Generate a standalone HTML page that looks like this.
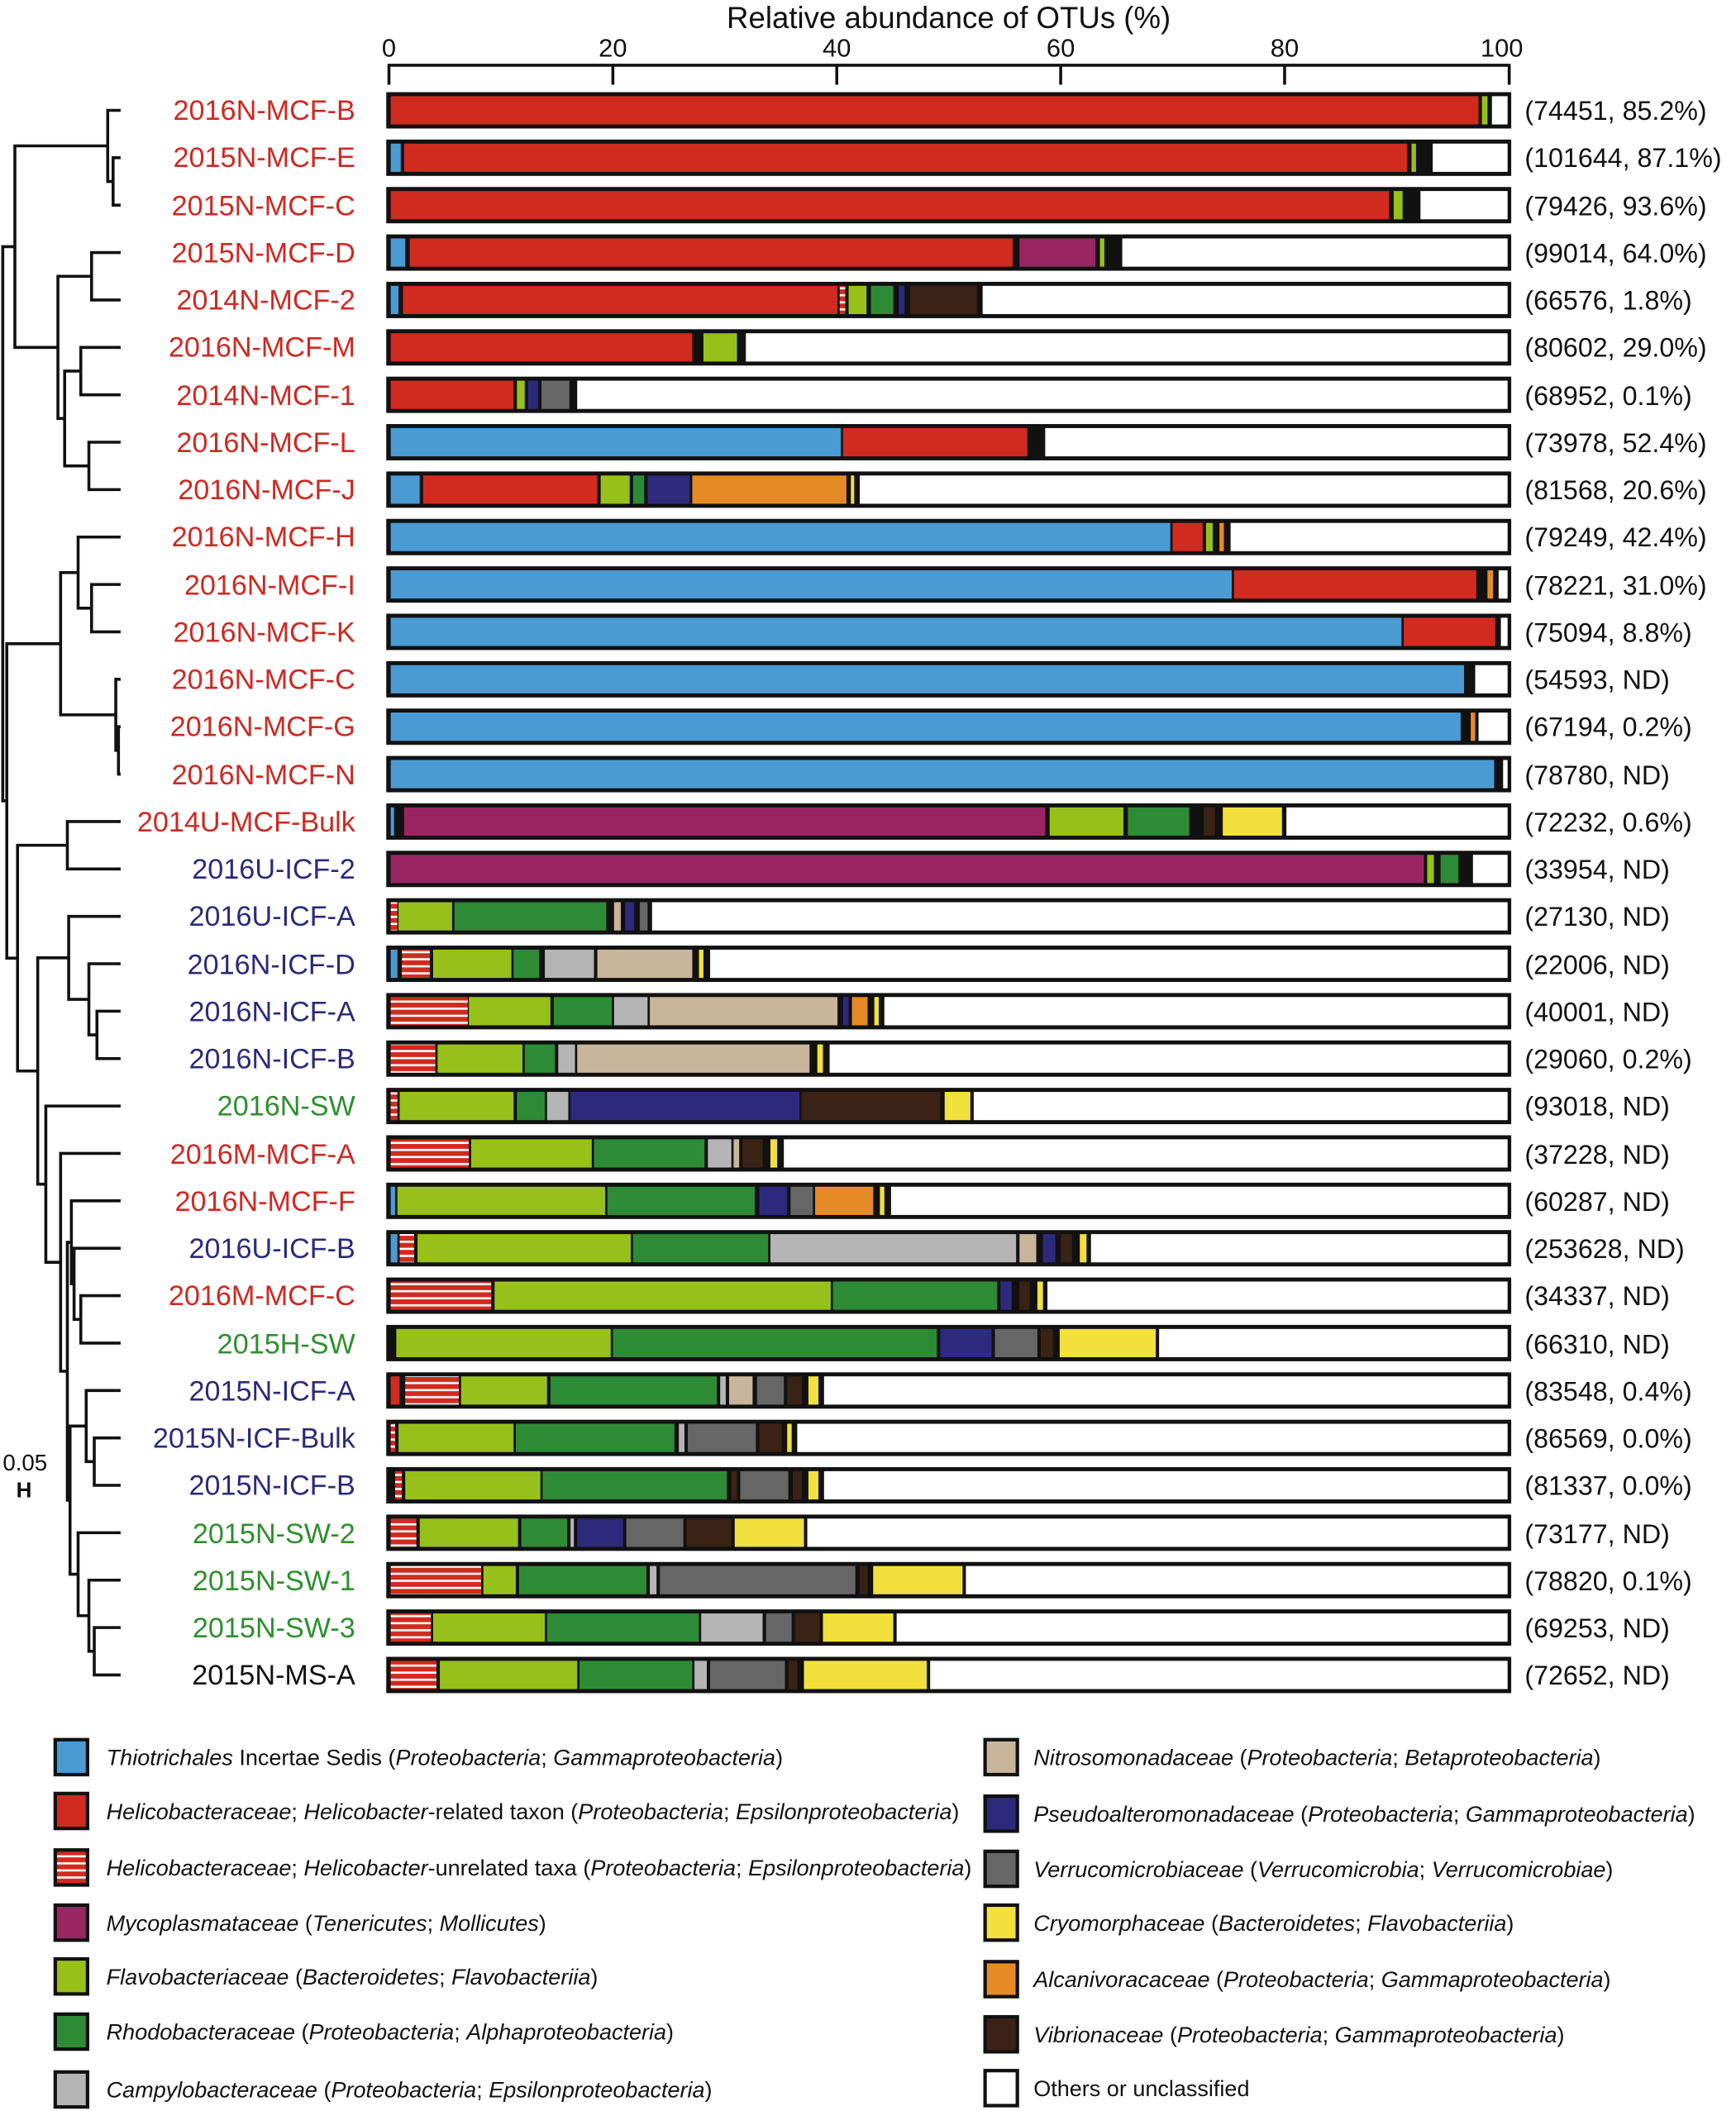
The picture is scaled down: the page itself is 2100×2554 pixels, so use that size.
<!DOCTYPE html>
<html><head><meta charset="utf-8">
<style>
html,body{margin:0;padding:0;background:#fff;}
svg{display:block;}
text{font-family:"Liberation Sans",Arial,sans-serif;}
.lab{font-size:21px;text-anchor:end;}
.ann{font-size:19.8px;fill:#111;}
.lg{font-size:16.6px;fill:#111;}
.r{fill:#cc2a22}.b{fill:#2b2a7a}.g{fill:#2e8f2e}.k{fill:#111}
</style></head>
<body>
<svg id="s" width="2100" height="2554" viewBox="0 0 1290 1569" xmlns="http://www.w3.org/2000/svg">
<defs>
<pattern id="st" patternUnits="userSpaceOnUse" width="10" height="5.25" y="0">
<rect width="10" height="5.25" fill="#d12a1f"/><rect y="3.4" width="10" height="1.6" fill="#fff"/>
</pattern>
</defs>
<rect width="1290" height="1569" fill="#fff"/>
<text x="705" y="21" font-size="22.5" text-anchor="middle" fill="#111">Relative abundance of OTUs (%)</text>
<g font-size="19" text-anchor="middle" fill="#111">
<text x="289" y="42">0</text><text x="455.4" y="42">20</text><text x="621.8" y="42">40</text><text x="788.2" y="42">60</text><text x="954.6" y="42">80</text><text x="1116" y="42">100</text>
</g>
<g id="axis" stroke="#111" stroke-width="2.2" fill="none">
<path d="M288 48.5 H1122.5 M289 48 V63 M455.4 48 V63 M621.8 48 V63 M788.2 48 V63 M954.6 48 V63 M1121.5 48 V63"/>
</g>
<g id="bars"></g>
<g id="tree" stroke="#111" stroke-width="2.2" fill="none"></g>

<g>
<text class="lab r" x="264" y="89">2016N-MCF-B</text>
<text class="lab r" x="264" y="124">2015N-MCF-E</text>
<text class="lab r" x="264" y="160">2015N-MCF-C</text>
<text class="lab r" x="264" y="195">2015N-MCF-D</text>
<text class="lab r" x="264" y="230">2014N-MCF-2</text>
<text class="lab r" x="264" y="265">2016N-MCF-M</text>
<text class="lab r" x="264" y="301">2014N-MCF-1</text>
<text class="lab r" x="264" y="336">2016N-MCF-L</text>
<text class="lab r" x="264" y="371">2016N-MCF-J</text>
<text class="lab r" x="264" y="406">2016N-MCF-H</text>
<text class="lab r" x="264" y="442">2016N-MCF-I</text>
<text class="lab r" x="264" y="477">2016N-MCF-K</text>
<text class="lab r" x="264" y="512">2016N-MCF-C</text>
<text class="lab r" x="264" y="547">2016N-MCF-G</text>
<text class="lab r" x="264" y="583">2016N-MCF-N</text>
<text class="lab r" x="264" y="618">2014U-MCF-Bulk</text>
<text class="lab b" x="264" y="653">2016U-ICF-2</text>
<text class="lab b" x="264" y="688">2016U-ICF-A</text>
<text class="lab b" x="264" y="724">2016N-ICF-D</text>
<text class="lab b" x="264" y="759">2016N-ICF-A</text>
<text class="lab b" x="264" y="794">2016N-ICF-B</text>
<text class="lab g" x="264" y="829">2016N-SW</text>
<text class="lab r" x="264" y="865">2016M-MCF-A</text>
<text class="lab r" x="264" y="900">2016N-MCF-F</text>
<text class="lab b" x="264" y="935">2016U-ICF-B</text>
<text class="lab r" x="264" y="970">2016M-MCF-C</text>
<text class="lab g" x="264" y="1006">2015H-SW</text>
<text class="lab b" x="264" y="1041">2015N-ICF-A</text>
<text class="lab b" x="264" y="1076">2015N-ICF-Bulk</text>
<text class="lab b" x="264" y="1111">2015N-ICF-B</text>
<text class="lab g" x="264" y="1147">2015N-SW-2</text>
<text class="lab g" x="264" y="1182">2015N-SW-1</text>
<text class="lab g" x="264" y="1217">2015N-SW-3</text>
<text class="lab k" x="264" y="1252">2015N-MS-A</text>
</g>
<g>
<text class="ann" x="1133" y="89">(74451, 85.2%)</text>
<text class="ann" x="1133" y="124">(101644, 87.1%)</text>
<text class="ann" x="1133" y="160">(79426, 93.6%)</text>
<text class="ann" x="1133" y="195">(99014, 64.0%)</text>
<text class="ann" x="1133" y="230">(66576, 1.8%)</text>
<text class="ann" x="1133" y="265">(80602, 29.0%)</text>
<text class="ann" x="1133" y="301">(68952, 0.1%)</text>
<text class="ann" x="1133" y="336">(73978, 52.4%)</text>
<text class="ann" x="1133" y="371">(81568, 20.6%)</text>
<text class="ann" x="1133" y="406">(79249, 42.4%)</text>
<text class="ann" x="1133" y="442">(78221, 31.0%)</text>
<text class="ann" x="1133" y="477">(75094, 8.8%)</text>
<text class="ann" x="1133" y="512">(54593, ND)</text>
<text class="ann" x="1133" y="547">(67194, 0.2%)</text>
<text class="ann" x="1133" y="583">(78780, ND)</text>
<text class="ann" x="1133" y="618">(72232, 0.6%)</text>
<text class="ann" x="1133" y="653">(33954, ND)</text>
<text class="ann" x="1133" y="688">(27130, ND)</text>
<text class="ann" x="1133" y="724">(22006, ND)</text>
<text class="ann" x="1133" y="759">(40001, ND)</text>
<text class="ann" x="1133" y="794">(29060, 0.2%)</text>
<text class="ann" x="1133" y="829">(93018, ND)</text>
<text class="ann" x="1133" y="865">(37228, ND)</text>
<text class="ann" x="1133" y="900">(60287, ND)</text>
<text class="ann" x="1133" y="935">(253628, ND)</text>
<text class="ann" x="1133" y="970">(34337, ND)</text>
<text class="ann" x="1133" y="1006">(66310, ND)</text>
<text class="ann" x="1133" y="1041">(83548, 0.4%)</text>
<text class="ann" x="1133" y="1076">(86569, 0.0%)</text>
<text class="ann" x="1133" y="1111">(81337, 0.0%)</text>
<text class="ann" x="1133" y="1147">(73177, ND)</text>
<text class="ann" x="1133" y="1182">(78820, 0.1%)</text>
<text class="ann" x="1133" y="1217">(69253, ND)</text>
<text class="ann" x="1133" y="1252">(72652, ND)</text>
</g>
<text x="2" y="1093" font-size="17" fill="#111">0.05</text>
<text x="12" y="1113" font-size="16" font-weight="bold" fill="#111">H</text>

<g id="legsw" stroke="#111" stroke-width="2.6">
<rect x="41" y="1293" width="24" height="26" fill="#4a9bd4"/>
<rect x="41" y="1333" width="24" height="26" fill="#d12a1f"/>
<rect x="41" y="1375" width="24" height="26" fill="url(#st)"/>
<rect x="41" y="1416" width="24" height="26" fill="#9b2563"/>
<rect x="41" y="1456" width="24" height="26" fill="#97c11a"/>
<rect x="41" y="1497" width="24" height="26" fill="#2e8b35"/>
<rect x="41" y="1540" width="24" height="26" fill="#b5b5b5"/>
<rect x="732" y="1293" width="24" height="26" fill="#c8b59a"/>
<rect x="732" y="1335" width="24" height="26" fill="#2d2a7e"/>
<rect x="732" y="1376" width="24" height="26" fill="#666666"/>
<rect x="732" y="1416" width="24" height="26" fill="#f2e03c"/>
<rect x="732" y="1458" width="24" height="26" fill="#e68a25"/>
<rect x="732" y="1499" width="24" height="26" fill="#3a2215"/>
<rect x="732" y="1539" width="24" height="26" fill="#ffffff"/>
</g>
<g class="lg">
<text class="lg" x="79" y="1312"><tspan font-style="italic">Thiotrichales</tspan> Incertae Sedis (<tspan font-style="italic">Proteobacteria</tspan>; <tspan font-style="italic">Gammaproteobacteria</tspan>)</text>
<text class="lg" x="79" y="1352"><tspan font-style="italic">Helicobacteraceae</tspan>; <tspan font-style="italic">Helicobacter</tspan>-related taxon (<tspan font-style="italic">Proteobacteria</tspan>; <tspan font-style="italic">Epsilonproteobacteria</tspan>)</text>
<text class="lg" x="79" y="1394"><tspan font-style="italic">Helicobacteraceae</tspan>; <tspan font-style="italic">Helicobacter</tspan>-unrelated taxa (<tspan font-style="italic">Proteobacteria</tspan>; <tspan font-style="italic">Epsilonproteobacteria</tspan>)</text>
<text class="lg" x="79" y="1435"><tspan font-style="italic">Mycoplasmataceae</tspan> (<tspan font-style="italic">Tenericutes</tspan>; <tspan font-style="italic">Mollicutes</tspan>)</text>
<text class="lg" x="79" y="1475"><tspan font-style="italic">Flavobacteriaceae</tspan> (<tspan font-style="italic">Bacteroidetes</tspan>; <tspan font-style="italic">Flavobacteriia</tspan>)</text>
<text class="lg" x="79" y="1516"><tspan font-style="italic">Rhodobacteraceae</tspan> (<tspan font-style="italic">Proteobacteria</tspan>; <tspan font-style="italic">Alphaproteobacteria</tspan>)</text>
<text class="lg" x="79" y="1559"><tspan font-style="italic">Campylobacteraceae</tspan> (<tspan font-style="italic">Proteobacteria</tspan>; <tspan font-style="italic">Epsilonproteobacteria</tspan>)</text>
<text class="lg" x="768" y="1312"><tspan font-style="italic">Nitrosomonadaceae</tspan> (<tspan font-style="italic">Proteobacteria</tspan>; <tspan font-style="italic">Betaproteobacteria</tspan>)</text>
<text class="lg" x="768" y="1354"><tspan font-style="italic">Pseudoalteromonadaceae</tspan> (<tspan font-style="italic">Proteobacteria</tspan>; <tspan font-style="italic">Gammaproteobacteria</tspan>)</text>
<text class="lg" x="768" y="1395"><tspan font-style="italic">Verrucomicrobiaceae</tspan> (<tspan font-style="italic">Verrucomicrobia</tspan>; <tspan font-style="italic">Verrucomicrobiae</tspan>)</text>
<text class="lg" x="768" y="1435"><tspan font-style="italic">Cryomorphaceae</tspan> (<tspan font-style="italic">Bacteroidetes</tspan>; <tspan font-style="italic">Flavobacteriia</tspan>)</text>
<text class="lg" x="768" y="1477"><tspan font-style="italic">Alcanivoracaceae</tspan> (<tspan font-style="italic">Proteobacteria</tspan>; <tspan font-style="italic">Gammaproteobacteria</tspan>)</text>
<text class="lg" x="768" y="1518"><tspan font-style="italic">Vibrionaceae</tspan> (<tspan font-style="italic">Proteobacteria</tspan>; <tspan font-style="italic">Gammaproteobacteria</tspan>)</text>
<text class="lg" x="768" y="1558">Others or unclassified</text>
</g>
</svg>
<script>
(function(){
var C={bl:'#4a9bd4',r:'#d12a1f',s:'url(#st)',p:'#9b2563',lg:'#97c11a',g:'#2e8b35',lgr:'#b5b5b5',t:'#c8b59a',n:'#2d2a7e',dg:'#666666',y:'#f2e03c',o:'#e68a25',br:'#3a2215',w:'#ffffff'};
var D=[
[['r',0,97.4],['lg',97.7,98.2],['w',98.6,100]],
[['bl',0,0.9],['r',1.2,91],['lg',91.4,91.8],['w',93.3,100]],
[['r',0,89.4],['lg',89.8,90.6],['w',92.2,100]],
[['bl',0,1.3],['r',1.7,55.7],['p',56.3,63.1],['lg',63.5,63.9],['w',65.5,100]],
[['bl',0,0.7],['r',1.1,40],['s',40.2,40.7],['lg',41,42.6],['g',43,45],['n',45.5,46],['br',46.5,52.5],['w',53,100]],
[['r',0,27],['lg',28,31],['w',31.8,100]],
[['r',0,11],['lg',11.3,12],['n',12.3,13.2],['dg',13.5,16],['w',16.7,100]],
[['bl',0,40.3],['r',40.5,57],['w',58.6,100]],
[['bl',0,2.6],['r',2.9,18.5],['lg',18.8,21.4],['g',21.7,22.7],['n',23,26.8],['o',27,40.8],['y',41.2,41.5],['w',42,100]],
[['bl',0,69.8],['r',70,72.7],['lg',73,73.6],['o',74.2,74.6],['w',75.2,100]],
[['bl',0,75.3],['r',75.5,97.2],['o',98.2,98.7],['w',99.2,100]],
[['bl',0,90.5],['r',90.7,98.9],['w',99.4,100]],
[['bl',0,96.1],['w',97.1,100]],
[['bl',0,95.8],['o',96.7,97.1],['w',97.4,100]],
[['bl',0,98.8],['w',99.6,100]],
[['bl',0,0.3],['p',1.2,58.6],['lg',59,65.6],['g',66,71.5],['br',72.8,73.8],['y',74.5,79.8],['w',80.2,100]],
[['p',0,92.5],['lg',92.8,93.4],['g',94,95.6],['w',96.9,100]],
[['s',0,0.6],['lg',0.7,5.5],['g',5.7,19.3],['t',20,20.6],['n',21,21.8],['dg',22.3,23],['w',23.4,100]],
[['bl',0,0.6],['s',1,3.5],['lg',3.8,10.8],['g',11,13.3],['lgr',13.8,18.2],['t',18.5,27],['y',27.6,28],['w',28.6,100]],
[['s',0,6.9],['lg',7,14.3],['g',14.6,19.8],['lgr',20,23],['t',23.2,40],['n',40.5,41],['o',41.3,42.7],['y',43.3,43.7],['w',44.2,100]],
[['s',0,4],['lg',4.2,11.8],['g',12,14.7],['lgr',15,16.5],['t',16.7,37.5],['y',38.2,38.7],['w',39.3,100]],
[['s',0,0.6],['lg',0.8,11],['g',11.3,13.8],['lgr',14,15.9],['n',16.1,36.6],['br',36.8,49.2],['y',49.6,51.9],['w',52.2,100]],
[['s',0,7],['lg',7.2,18],['g',18.2,28.1],['lgr',28.4,30.5],['t',30.7,31.2],['br',31.5,33.3],['y',34,34.6],['w',35.2,100]],
[['bl',0,0.4],['lg',0.6,19.2],['g',19.4,32.6],['n',33,35.5],['dg',35.8,37.8],['o',38,43.2],['y',43.8,44.2],['w',44.8,100]],
[['bl',0,0.6],['s',0.8,2.1],['lg',2.4,21.5],['g',21.7,33.8],['lgr',34,56],['t',56.3,57.8],['n',58.4,59.5],['br',60,61],['y',61.7,62.3],['w',62.7,100]],
[['s',0,9],['lg',9.3,39.4],['g',39.6,54.3],['n',54.6,55.6],['br',56.3,57.2],['y',57.9,58.4],['w',58.8,100]],
[['lg',0.5,19.7],['g',19.9,48.9],['n',49.2,53.8],['dg',54.1,57.9],['br',58.2,59.3],['y',59.9,68.5],['w',68.8,100]],
[['r',0,0.8],['s',1.3,6.1],['lg',6.3,14],['g',14.3,29.2],['lgr',29.5,30],['t',30.3,32.4],['dg',32.8,35.2],['br',35.5,36.8],['y',37.4,38.3],['w',38.8,100]],
[['s',0,0.4],['lg',0.7,11],['g',11.2,25.4],['lgr',25.8,26.3],['dg',26.6,32.7],['br',33,35],['y',35.5,35.9],['w',36.4,100]],
[['s',0.4,1],['lg',1.3,13.4],['g',13.6,30.1],['br',30.5,31],['dg',31.3,35.6],['br',36,36.8],['y',37.4,38.3],['w',38.8,100]],
[['s',0,2.3],['lg',2.6,11.4],['g',11.7,15.8],['lgr',16.1,16.4],['n',16.7,20.8],['dg',21.1,26.2],['br',26.5,30.5],['y',30.8,37],['w',37.3,100]],
[['s',0,8.1],['lg',8.3,11.2],['g',11.5,22.9],['lgr',23.2,23.8],['dg',24.1,41.6],['br',42,42.7],['y',43.2,51.2],['w',51.5,100]],
[['s',0,3.6],['lg',3.8,13.8],['g',14,27.6],['lgr',27.8,33.3],['dg',33.6,35.9],['br',36.2,38.4],['y',38.7,45],['w',45.3,100]],
[['s',0,4.1],['lg',4.4,16.7],['g',16.9,27],['lgr',27.2,28.3],['dg',28.6,35.3],['br',35.6,36.4],['y',37,48],['w',48.3,100]]
];
var NS='http://www.w3.org/2000/svg';
function el(p,t,a){var e=document.createElementNS(NS,t);for(var k in a)e.setAttribute(k,a[k]);p.appendChild(e);return e;}
var g=document.getElementById('bars');
function Y(i){return 82+i*35.24;}
for(var i=0;i<D.length;i++){
 var y=Y(i);
 el(g,'rect',{x:287,y:y-13.5,width:836,height:27,fill:'#111'});
 D[i].forEach(function(s){
  var x0=290.3+s[1]*8.3, x1=290.3+s[2]*8.3; if(x1-x0<0.6)x1=x0+0.6;
  el(g,'rect',{x:x0,y:y-10.5,width:x1-x0,height:21,fill:C[s[0]]});
 });
}
var LX=89.6, T=document.getElementById('tree'), d='';
function n(x,c){return {x:x,c:c};}
var tree=n(2,[
 n(11,[ n(80,[0,n(84,[1,2])]), n(43,[n(68,[3,4]),n(48,[n(60,[5,6]),n(66,[7,8])])]) ]),
 n(5,[
  n(45,[n(58,[9,n(68,[10,11])]),n(86,[12,n(88,[13,14])])]),
  n(13,[ n(50,[15,16]),
   n(28,[ n(51,[17,n(66,[18,n(72,[19,20])])]),
    n(34,[21,n(45,[22,n(50,[ n(53,[23,n(55,[24,n(60,[25,26])])]),
      n(52,[ n(64,[27,n(70,[28,29])]), n(58,[30,n(66,[31,n(70,[32,33])])]) ]) ])])])
   ])
  ])
 ])
]);
function draw(nd){
 if(typeof nd==='number') return {x:LX,y:Y(nd)};
 var ys=nd.c.map(function(c){var r=draw(c);d+='M'+nd.x+' '+r.y+'H'+r.x;return r.y;});
 var a=Math.min.apply(null,ys),b=Math.max.apply(null,ys);
 d+='M'+nd.x+' '+(a-1.1)+'V'+(b+1.1);
 return {x:nd.x,y:(a+b)/2};
}
draw(tree);
el(T,'path',{d:d});
})();
</script>
</body></html>
